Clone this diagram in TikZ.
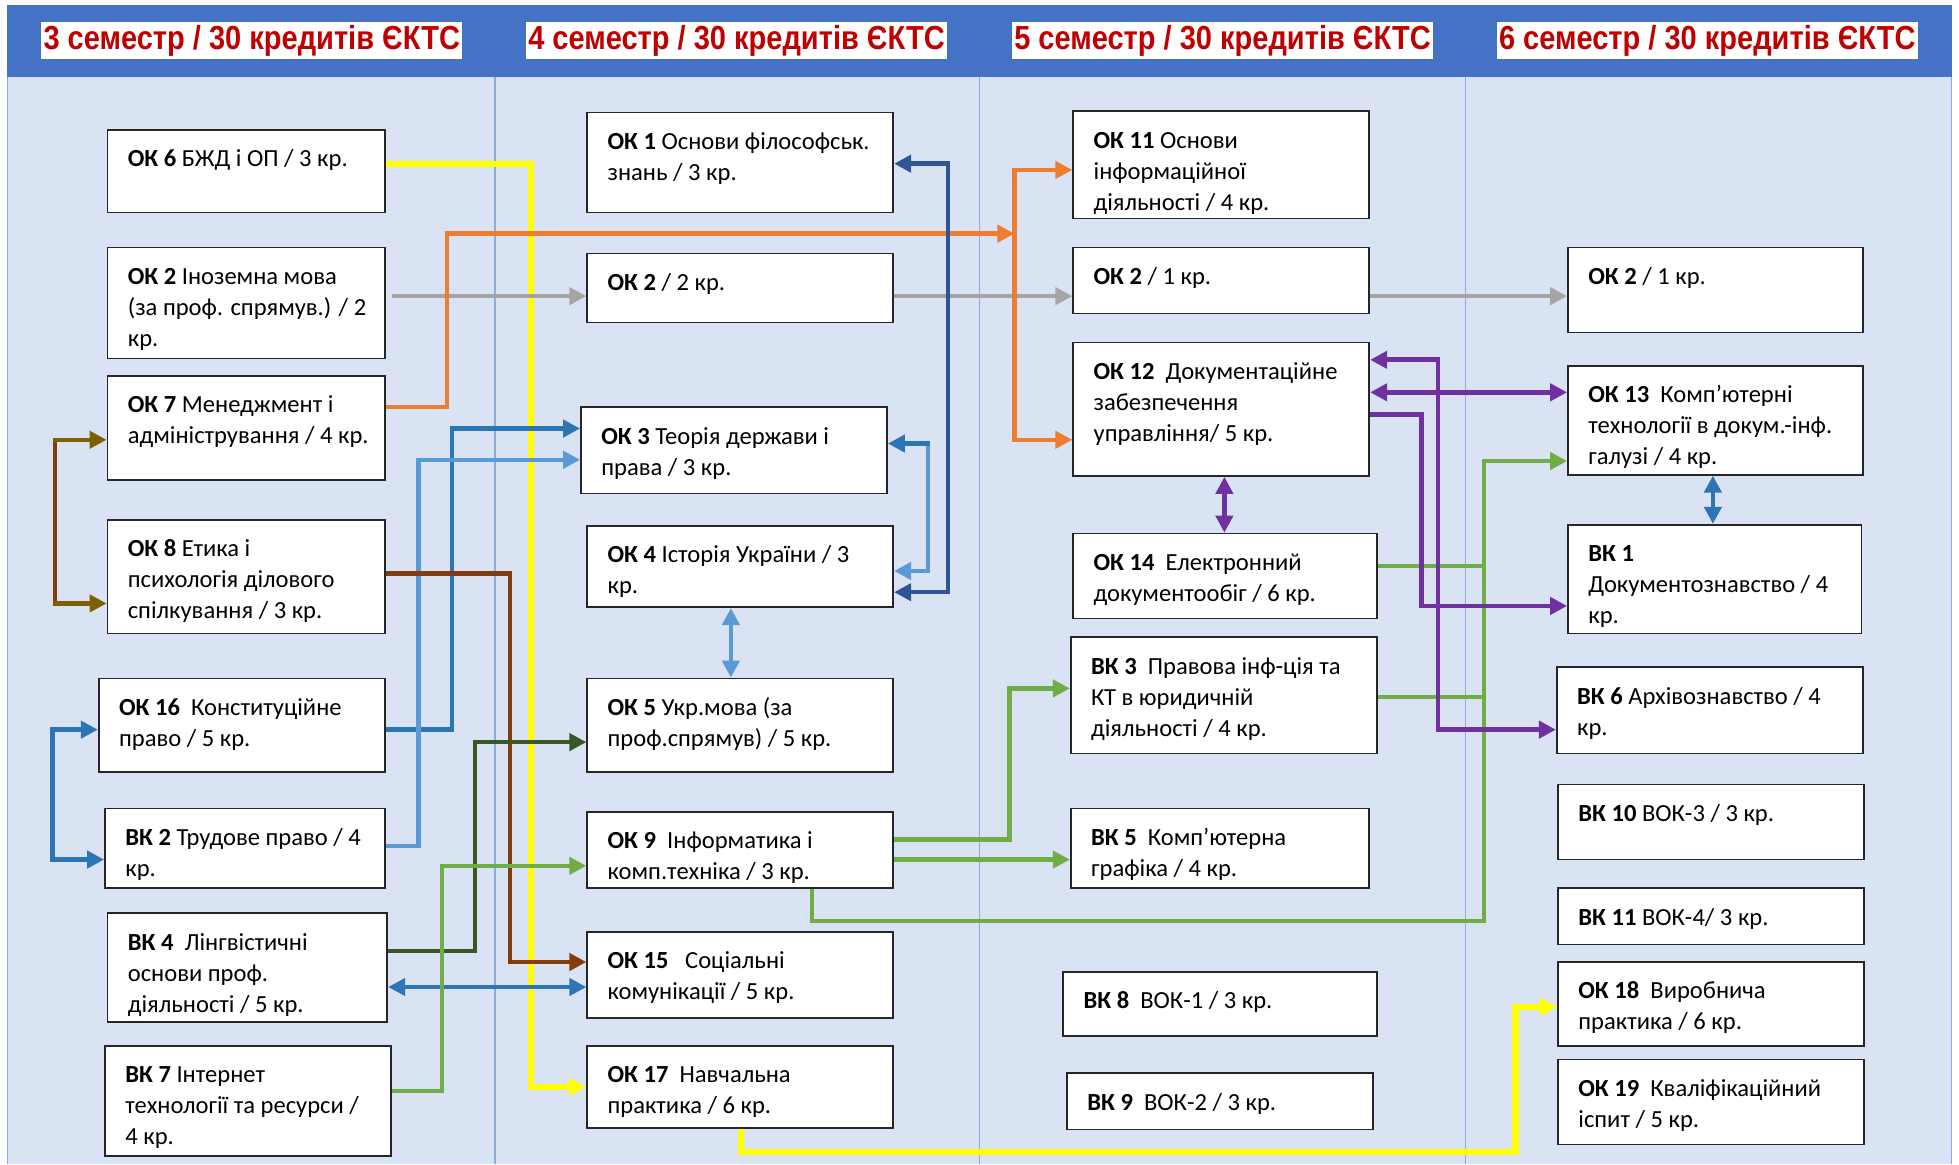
\documentclass[tikz,border=0pt]{standalone}
\usepackage{fontspec}
\setmainfont{Carlito}
\newfontfamily\hdrfont{Liberation Sans}
\usepackage{graphicx}
\usetikzlibrary{arrows.meta,fit}
\definecolor{cyel}{HTML}{FFFF00}
\definecolor{corg}{HTML}{ED7D31}
\definecolor{cgrey}{HTML}{A5A5A5}
\definecolor{cblue}{HTML}{2E75B6}
\definecolor{clblue}{HTML}{5B9BD5}
\definecolor{cnavy}{HTML}{2F5597}
\definecolor{cbrown}{HTML}{843C0C}
\definecolor{colive}{HTML}{7F6000}
\definecolor{cdkgreen}{HTML}{385723}
\definecolor{cgreen}{HTML}{70AD47}
\definecolor{cpurple}{HTML}{7030A0}
\definecolor{hdrblue}{HTML}{4472C4}
\definecolor{panel}{HTML}{DAE3F3}
\definecolor{divider}{HTML}{8FAADC}
\definecolor{hred}{HTML}{C00000}
\tikzset{
  cbox/.style={draw=black!85, line width=0.8pt, fill=white, inner sep=0pt},
  ctext/.style={inner sep=0pt, font=\fontsize{11.8pt}{14.9pt}\selectfont, text=black},
  hbox/.style={fill=white, inner sep=0pt, minimum width=202.2pt, minimum height=17.4pt, text=hred},
  conn/.style={line width=2.1pt},
  yel/.style={conn, cyel, line width=3pt},
  org/.style={conn, corg},
  gry/.style={conn, cgrey},
  blu/.style={conn, cblue},
  lblu/.style={conn, clblue},
  nav/.style={conn, cnavy},
  brn/.style={conn, cbrown},
  olv/.style={conn, colive},
  dgrn/.style={conn, cdkgreen},
  grn/.style={conn, cgreen},
  pur/.style={conn, cpurple, line width=2.3pt},
  >={Triangle[length=8.2pt,width=8.2pt]}
}
\newcommand\course[6]{%
  \node[cbox, fit={(#2,#3)(#4,#5)}] (#1) {};
  \node[ctext, anchor=base west, xshift=9.6pt, yshift=-17.7pt] (#1t) at (#2,#3) {\parbox[t]{240pt}{\raggedright #6}};
}
\newcommand\hdrtext[1]{\raisebox{-1.8pt}{\resizebox{200pt}{\height}{\fontsize{16pt}{17pt}\hdrfont\bfseries #1}}}
\begin{document}
\begin{tikzpicture}[x=0.6pt, y=-0.6pt]
\useasboundingbox (0,0) rectangle (1568,932);
\fill[white] (0,0) rectangle (1568,932);
\fill[panel] (6,62) rectangle (1562,932);
\fill[hdrblue] (6,4) rectangle (1562,62);
\foreach \x in {6,396,784,1173,1562} \draw[divider, line width=0.8pt] (\x,62) -- (\x,932);

\node[hbox] (h3) at (201.5,32.5) {\hdrtext{3 семестр / 30 кредитів ЄКТС}};
\node[hbox] (h4) at (589.5,32.5) {\hdrtext{4 семестр / 30 кредитів ЄКТС}};
\node[hbox] (h5) at (978.5,32.5) {\hdrtext{5 семестр / 30 кредитів ЄКТС}};
\node[hbox] (h6) at (1366.5,32.5) {\hdrtext{6 семестр / 30 кредитів ЄКТС}};

% column 1
\course{ok6}{86}{104}{308}{170}{\textbf{ОК 6} БЖД і ОП / 3 кр.}
\course{ok2a}{86}{198}{308}{287}{\textbf{ОК 2} Іноземна мова\\(за проф. спрямув.) / 2\\кр.}
\course{ok7}{86}{301}{308}{384}{\textbf{ОК 7} Менеджмент і\\адміністрування / 4 кр.}
\course{ok8}{86}{416}{308}{507}{\textbf{ОК 8} Етика і\\психологія ділового\\спілкування / 3 кр.}
\course{ok16}{79}{543}{308}{618}{\textbf{ОК 16}\ \ Конституційне\\право / 5 кр.}
\course{vk2}{84}{647}{308}{711}{\textbf{ВК 2} Трудове право / 4\\кр.}
\course{vk4}{86}{731}{310}{818}{\textbf{ВК 4}\ \ Лінгвістичні\\основи проф.\\діяльності / 5 кр.}
\course{vk7}{84}{837}{313}{925}{\textbf{ВК 7} Інтернет\\технології та ресурси /\\4 кр.}
% column 2
\course{ok1}{470}{90}{715}{170}{\textbf{ОК 1} Основи філософськ.\\знань / 3 кр.}
\course{ok2b}{470}{203}{715}{258}{\textbf{ОК 2} / 2 кр.}
\course{ok3}{465}{326}{710}{395}{\textbf{ОК 3} Теорія держави і\\права / 3 кр.}
\course{ok4}{470}{421}{715}{486}{\textbf{ОК 4} Історія України / 3\\кр.}
\course{ok5}{470}{543}{715}{618}{\textbf{ОК 5} Укр.мова (за\\проф.спрямув) / 5 кр.}
\course{ok9}{470}{650}{715}{711}{\textbf{ОК 9}\ \ Інформатика і\\комп.техніка / 3 кр.}
\course{ok15}{470}{746}{715}{815}{\textbf{ОК 15}\ \ \ Соціальні\\комунікації / 5 кр.}
\course{ok17}{470}{837}{715}{903}{\textbf{ОК 17}\ \ Навчальна\\практика / 6 кр.}
% column 3
\course{ok11}{859}{89}{1096}{175}{\textbf{ОК 11} Основи\\інформаційної\\діяльності / 4 кр.}
\course{ok2c}{859}{198}{1096}{251}{\textbf{ОК 2} / 1 кр.}
\course{ok12}{859}{274}{1096}{381}{\textbf{ОК 12}\ \ Документаційне\\забезпечення\\управління/ 5 кр.}
\course{ok14}{859}{427}{1102}{495}{\textbf{ОК 14}\ \ Електронний\\документообіг / 6 кр.}
\course{vk3}{857}{510}{1102}{603}{\textbf{ВК 3}\ \ Правова інф-ція та\\КТ в юридичній\\діяльності / 4 кр.}
\course{vk5}{857}{647}{1096}{711}{\textbf{ВК 5}\ \ Комп’ютерна\\графіка / 4 кр.}
\course{vk8}{851}{778}{1102}{829}{\textbf{ВК 8}\ \ ВОК-1 / 3 кр.}
\course{vk9}{854}{859}{1099}{904}{\textbf{ВК 9}\ \ ВОК-2 / 3 кр.}
% column 4
\course{ok2d}{1255}{198}{1491}{266}{\textbf{ОК 2} / 1 кр.}
\course{ok13}{1255}{293}{1491}{380}{\textbf{ОК 13}\ \ Комп’ютерні\\технології в докум.-інф.\\галузі / 4 кр.}
\course{vk1}{1255}{420}{1490}{507}{\textbf{ВК 1}\\Документознавство / 4\\кр.}
\course{vk6}{1246}{534}{1491}{603}{\textbf{ВК 6} Архівознавство / 4\\кр.}
\course{vk10}{1247}{628}{1492}{688}{\textbf{ВК 10} ВОК-3 / 3 кр.}
\course{vk11}{1247}{711}{1492}{756}{\textbf{ВК 11} ВОК-4/ 3 кр.}
\course{ok18}{1247}{770}{1492}{837}{\textbf{ОК 18}\ \ Виробнича\\практика / 6 кр.}
\course{ok19}{1247}{848}{1492}{916}{\textbf{ОК 19}\ \ Кваліфікаційний\\іспит / 5 кр.}

% connectors
\draw[yel,->] (ok6.east |- 0,131) -| (425,870) -- (ok17.west |- 0,870);
\draw[yel,->] (593,0 |- ok17.south) -- (593,922) -| (1213,806) -- (ok18.west |- 0,806);

\draw[gry,->] ([xshift=3pt]ok2a.east |- 0,237) -- (ok2b.west |- 0,237);
\draw[gry,->] (ok2b.east |- 0,237) -- (ok2c.west |- 0,237);
\draw[gry,->] (ok2c.east |- 0,237) -- (ok2d.west |- 0,237);

\coordinate (orj) at (812,187);
\draw[org,->] (ok7.east |- 0,326) -| (358,187) -- (orj);
\draw[org,<->] (ok11.west |- 0,136) -| (812,352) -- (ok12.west |- 0,352);

\draw[blu,->] (ok16.east |- 0,584) -| (362,343) -- (ok3.west |- 0,343);
\draw[lblu,->] (vk2.east |- 0,677) -| (335,368) -- (ok3.west |- 0,368);
\draw[blu,<->] (ok16.west |- 0,584) -| (42,688) -- (vk2.west |- 0,688);
\draw[olv,<->] (ok7.west |- 0,352) -| (44,483) -- (ok8.west |- 0,483);
\draw[brn] (44,354) -- (44,481);
\draw[brn,->] (ok8.east |- 0,459) -| (408,770) -- (ok15.west |- 0,770);
\draw[dgrn,->] (vk4.east |- 0,761) -| (380,594) -- (ok5.west |- 0,594);
\draw[blu,<->] (vk4.east |- 0,790) -- (ok15.west |- 0,790);
\draw[grn,->] (vk7.east |- 0,873) -| (354,693) -- (ok9.west |- 0,693);

\draw[nav,<->] (ok1.east |- 0,131) -| (759,474) -- (ok4.east |- 0,474);
\coordinate (c14) at (743,355);
\draw[lblu,<-] (ok4.east |- 0,457) -| (c14);
\draw[blu,->] ([xshift=1.05pt]c14) -- (ok3.east |- 0,355);
\draw[lblu,<->] (ok4.south -| 585,0) -- (ok5.north -| 585,0);

\draw[grn,->] (ok9.east |- 0,672) -| (808,551) -- (vk3.west |- 0,551);
\draw[grn,->] (ok9.east |- 0,688) -- (vk5.west |- 0,688);
\draw[grn,->] (ok9.south -| 650,0) -- (650,737) -| (1188,369) -- (ok13.west |- 0,369);
\draw[grn] (ok14.east |- 0,453) -- (1188,453);
\draw[grn] (vk3.east |- 0,558) -- (1188,558);

\draw[pur,<->] (ok12.south -| 980,0) -- (ok14.north -| 980,0);
\draw[pur,<->] (ok12.east |- 0,314) -- (ok13.west |- 0,314);
\draw[pur,<->] (ok12.east |- 0,288) -| (1151,584) -- (vk6.west |- 0,584);
\draw[pur,->] (ok12.east |- 0,332) -| (1138,485) -- (vk1.west |- 0,485);

\draw[blu,<->] (ok13.south -| 1371,0) -- (vk1.north -| 1371,0);
\end{tikzpicture}
\end{document}
